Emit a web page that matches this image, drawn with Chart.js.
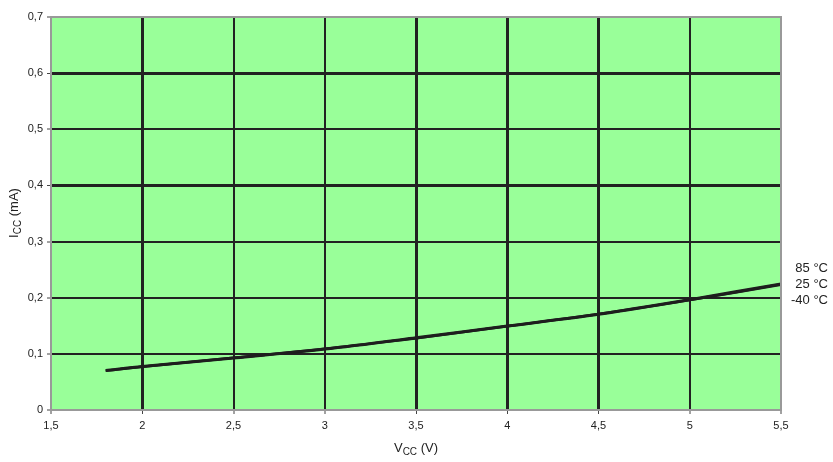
<!DOCTYPE html>
<html lang="en">
<head>
  <meta charset="UTF-8" />
  <title>ICC vs VCC</title>
  <script src="https://cdn.jsdelivr.net/npm/chart.js"></script>
  <style>
    body { margin: 0; background: #fff; }
    canvas { display: block; }
  </style>
</head>
<body>
  <canvas id="iccChart" width="833" height="462"></canvas>
  <script>
    // supply voltage (V) and supply current (mA) for each temperature
    const vcc = [1.8, 2, 2.5, 3, 3.5, 4, 4.5, 5, 5.5];
    const icc85 = [0.071, 0.078, 0.093, 0.109, 0.129, 0.150, 0.171, 0.197, 0.225];
    const icc25 = [0.070, 0.077, 0.093, 0.109, 0.128, 0.149, 0.171, 0.196, 0.224];
    const iccM40 = [0.070, 0.077, 0.092, 0.108, 0.128, 0.149, 0.170, 0.196, 0.223];
    const tempLabels = ['85 °C', '25 °C', '-40 °C'];
    const xTicks = [1.5, 2, 2.5, 3, 3.5, 4, 4.5, 5, 5.5];
    const yTicks = [0, 0.1, 0.2, 0.3, 0.4, 0.5, 0.6, 0.7];
    const thickX = [2, 3.5, 4, 4.5];
    const thickY = [0.4, 0.6];

    const comma = v => String(v).replace('.', ',');
    const toPts = ys => vcc.map((x, i) => ({ x: x, y: ys[i] }));

    const plotDecor = {
      id: 'plotDecor',
      beforeDraw(chart) {
        const { ctx, chartArea: a } = chart;
        ctx.save();
        ctx.fillStyle = '#99ff99';
        ctx.fillRect(a.left, a.top, a.right - a.left, a.bottom - a.top);
        ctx.restore();
      },
      afterDraw(chart) {
        const { ctx, chartArea: a } = chart;
        ctx.save();
        ctx.strokeStyle = '#999999';
        ctx.lineWidth = 2;
        ctx.strokeRect(a.left, a.top, a.right - a.left, a.bottom - a.top);

        ctx.fillStyle = '#222';
        // y axis title: I_CC (mA)
        ctx.translate(14, 213);
        ctx.rotate(-Math.PI / 2);
        drawSub(ctx, 'I', 'CC', ' (mA)', 0, 4);
        ctx.setTransform(1, 0, 0, 1, 0, 0);
        // x axis title: V_CC (V)
        drawSub(ctx, 'V', 'CC', ' (V)', 416, 452);

        // temperature labels at the right end of the curves
        ctx.font = '13px Arial';
        ctx.textAlign = 'right';
        ctx.textBaseline = 'middle';
        const ys = [268, 284, 300];
        tempLabels.forEach((t, i) => ctx.fillText(t, 828, ys[i]));
        ctx.restore();
      }
    };

    function drawSub(ctx, main, sub, rest, cx, baseline) {
      ctx.textBaseline = 'alphabetic';
      ctx.textAlign = 'left';
      ctx.font = '13px Arial';
      const w1 = ctx.measureText(main).width;
      const w3 = ctx.measureText(rest).width;
      ctx.font = '10px Arial';
      const w2 = ctx.measureText(sub).width;
      let x = cx - (w1 + w2 + w3) / 2;
      ctx.font = '13px Arial';
      ctx.fillText(main, x, baseline);
      x += w1;
      ctx.font = '10px Arial';
      ctx.fillText(sub, x, baseline + 3);
      x += w2;
      ctx.font = '13px Arial';
      ctx.fillText(rest, x, baseline);
    }

    const series = [icc85, icc25, iccM40];
    const datasets = series.map((ys, i) => ({
      label: tempLabels[i],
      data: toPts(ys),
      borderColor: '#1e1e1e',
      borderWidth: 2.5,
      pointRadius: 0,
      tension: 0.3,
      fill: false
    }));

    const gridColor = (ctx, ends) => {
      const v = ctx.tick ? ctx.tick.value : null;
      return (v === ends[0] || v === ends[1]) ? 'rgba(0,0,0,0)' : '#222222';
    };

    new Chart(document.getElementById('iccChart'), {
      type: 'line',
      data: { datasets: datasets },
      options: {
        responsive: false,
        animation: false,
        layout: { padding: { top: 17, right: 52, left: 0, bottom: 0 } },
        plugins: { legend: { display: false }, tooltip: { enabled: false } },
        scales: {
          x: {
            type: 'linear',
            min: 1.5,
            max: 5.5,
            afterFit: s => { s.height = 52; },
            afterBuildTicks: s => { s.ticks = xTicks.map(v => ({ value: v })); },
            border: { display: false },
            grid: {
              color: c => gridColor(c, [1.5, 5.5]),
              lineWidth: c => (c.tick && thickX.includes(c.tick.value)) ? 3 : 2,
              tickColor: '#444',
              tickWidth: 1,
              tickLength: 4
            },
            ticks: {
              color: '#222',
              font: { family: 'Arial', size: 11 },
              padding: 5,
              maxRotation: 0,
              callback: v => comma(v)
            }
          },
          y: {
            min: 0,
            max: 0.7,
            afterFit: s => { s.width = 51; },
            afterBuildTicks: s => { s.ticks = yTicks.map(v => ({ value: v })); },
            border: { display: false },
            grid: {
              color: c => gridColor(c, [0, 0.7]),
              lineWidth: c => (c.tick && thickY.includes(c.tick.value)) ? 3 : 2,
              tickColor: '#444',
              tickWidth: 1,
              tickLength: 4
            },
            ticks: {
              color: '#222',
              font: { family: 'Arial', size: 11 },
              padding: 4,
              callback: v => comma(v)
            }
          }
        }
      },
      plugins: [plotDecor]
    });
  </script>
</body>
</html>
